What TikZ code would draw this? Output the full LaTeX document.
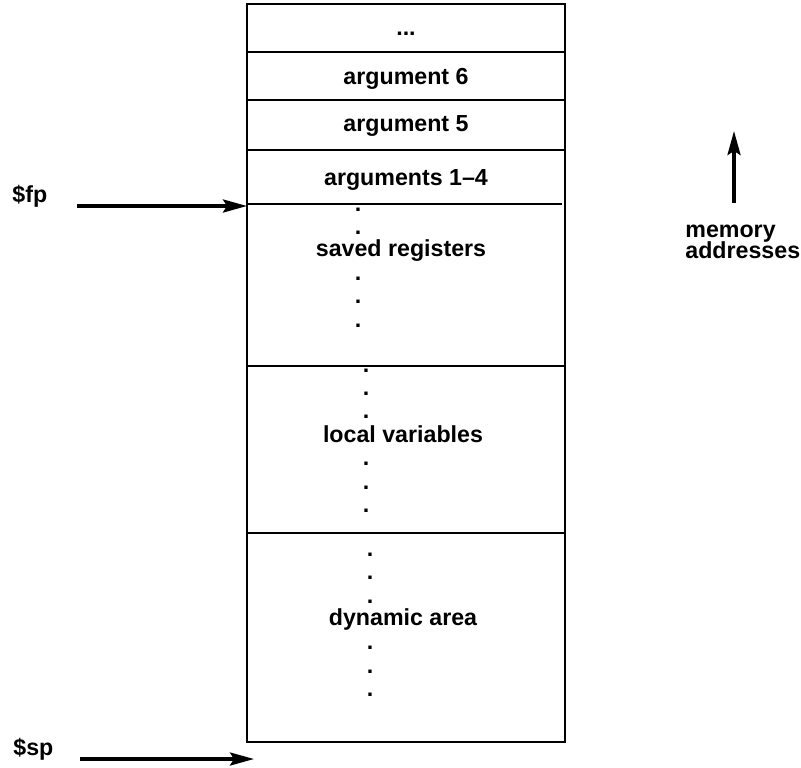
\documentclass[tikz,border=0pt]{standalone}
\usepackage{fontspec}
\setmainfont{Liberation Sans}
\usetikzlibrary{arrows.meta,positioning}

\begin{document}
\begin{tikzpicture}[x=0.5pt,y=-0.5pt,
	lbl/.style={font=\fontsize{11.6}{14}\selectfont\bfseries,inner sep=0pt,anchor=base},
	frame/.style={line width=0.8pt},
	ptr/.style={line width=1.7pt,-{Stealth[length=12pt,width=6.5pt,inset=2pt]}}]
	\useasboundingbox (0,0) rectangle (801,767);
	\draw[frame] (247,4) rectangle (565,742);
	\draw[frame] (247,52) -- (565,52);
	\draw[frame] (247,100) -- (565,100);
	\draw[frame] (247,150) -- (565,150);
	\draw[frame] (247,204) -- (562,204);
	\draw[frame] (247,366) -- (565,366);
	\draw[frame] (247,533) -- (565,533);
	\node[lbl] (more) at (406,35) {...};
	\node[lbl] (arg6) at (406,84) {argument 6};
	\node[lbl] (arg5) at (406,131) {argument 5};
	\node[lbl] (args) at (406,185) {arguments 1--4};
	\node[lbl] (saved) at (401,256) {saved registers};
	\foreach \dy [count=\i] in {-45,-22,24,47,71}
		\node[lbl] (sd\i) at (358,256+\dy) {.};
	\node[lbl] (local) at (403,442) {local variables};
	\foreach \dy [count=\i] in {-70,-47,-24,23,47,70}
		\node[lbl] (ld\i) at (366,442+\dy) {.};
	\node[lbl] (dyn) at (403,625) {dynamic area};
	\foreach \dy [count=\i] in {-69,-46,-22,24,48,71}
		\node[lbl] (dd\i) at (370,625+\dy) {.};
	\node[lbl,anchor=base west] (fp) at (12,202) {\$fp};
	\coordinate (fptail) at (77,206);
	\coordinate (fphead) at (247,206);
	\draw[ptr] (fptail) -- (fphead);
	\node[lbl,anchor=base west] (sp) at (13,755) {\$sp};
	\coordinate (sptail) at (80,759);
	\coordinate (sphead) at (254,759);
	\draw[ptr] (sptail) -- (sphead);
	\coordinate (memtail) at (734,203);
	\coordinate (memhead) at (734,131);
	\draw[ptr] (memtail) -- (memhead);
	\node[lbl,anchor=base west] (mem) at (685,237) {memory};
	\node[lbl,anchor=base west] (addr) at ([yshift=-10.5pt]mem.base west) {addresses};
\end{tikzpicture}
\end{document}
